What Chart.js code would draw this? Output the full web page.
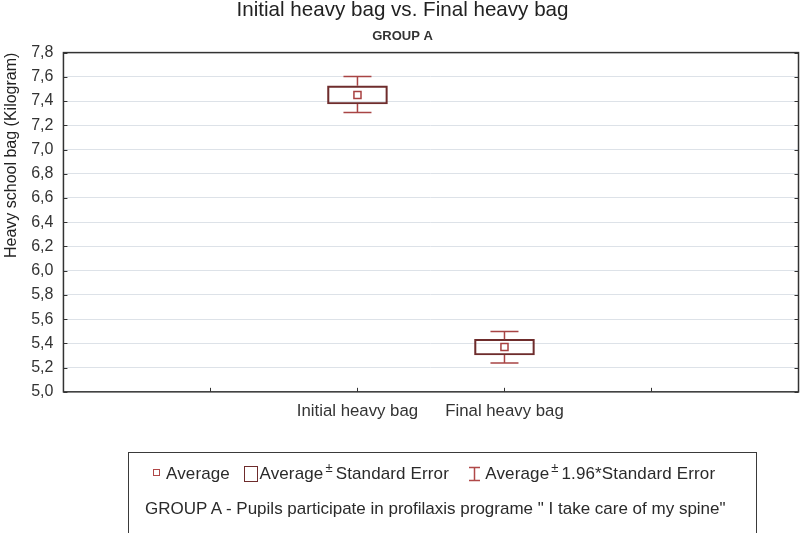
<!DOCTYPE html>
<html>
<head>
<meta charset="utf-8">
<script src="https://cdn.jsdelivr.net/npm/chart.js@4.4.0/dist/chart.umd.min.js"></script>
<style>
  body { margin: 0; background: #fff; font-family: 'Liberation Sans', Arial, sans-serif; overflow: hidden; }
  #wrap { position: relative; width: 800px; height: 533px; overflow: hidden; }
  #legend { position: absolute; left: 128px; top: 452px; width: 629px; height: 82px;
            border: 1.5px solid #3a3a3a; box-sizing: border-box; color: #2a2a2a; font-size: 17px; }
  .row { position: absolute; white-space: nowrap; line-height: 20px; }
  .sq { display: inline-block; width: 5px; height: 5px; border: 1.5px solid #b04848; vertical-align: 3px; margin-right: 6px; }
  .bx { display: inline-block; width: 12px; height: 14px; border: 1.5px solid #6e2c2c; vertical-align: -3px; margin-right: 1px; }
  sup { font-size: 13px; vertical-align: 7px; line-height: 0; margin: 0 3px 0 2px; }
  svg { vertical-align: -3px; }
</style>
</head>
<body>
<div id="wrap">
  <canvas id="chart" width="805" height="533"></canvas>
  <div id="legend">
    <div class="row" style="left:24px; top:11px; letter-spacing:0.13px;">
      <span class="sq"></span>Average&nbsp;&nbsp;&nbsp;<span class="bx"></span>Average<sup>±</sup>Standard Error&nbsp;&nbsp;&nbsp;&nbsp;<svg width="13" height="16"><path d="M1 1.5H12M6.5 1.5V14.5M1 14.5H12" stroke="#b04848" stroke-width="1.5" fill="none"/></svg> Average<sup>±</sup>1.96*Standard Error
    </div>
    <div class="row" style="left:16px; top:46px;">GROUP A - Pupils participate in profilaxis programe " I take care of my spine"</div>
  </div>
</div>
<script>
// DATA
const categories = ['Initial heavy bag', 'Final heavy bag'];
const catPos = [2, 3];
const means = [7.45, 5.37];
const seLow = [7.376, 5.304];
const seHigh = [7.526, 5.434];
const ciLow = [7.306, 5.238];
const ciHigh = [7.602, 5.497];
const yMin = 5.0, yMax = 7.8, yStep = 0.2;
const xMin = 0, xMax = 5;

Chart.defaults.font.family = "'Liberation Sans', Arial, sans-serif";
Chart.defaults.color = '#2a2a2a';

// whiskers (mean +- 1.96*SE)
const whiskers = {
  id: 'whiskers',
  afterDatasetsDraw(chart) {
    const { ctx, scales: { x, y } } = chart;
    ctx.save();
    ctx.strokeStyle = '#a84444';
    ctx.lineWidth = 1.5;
    catPos.forEach((c, i) => {
      const px = x.getPixelForValue(c);
      const top = y.getPixelForValue(ciHigh[i]);
      const bot = y.getPixelForValue(ciLow[i]);
      const bt = y.getPixelForValue(seHigh[i]);
      const bb = y.getPixelForValue(seLow[i]);
      ctx.beginPath();
      ctx.moveTo(px, top); ctx.lineTo(px, bt);
      ctx.moveTo(px, bb); ctx.lineTo(px, bot);
      ctx.moveTo(px - 14, top); ctx.lineTo(px + 14, top);
      ctx.moveTo(px - 14, bot); ctx.lineTo(px + 14, bot);
      ctx.stroke();
    });
    ctx.restore();
  }
};

// frame with inward ticks
const frame = {
  id: 'frame',
  afterDraw(chart) {
    const { ctx, chartArea: a, scales: { x, y } } = chart;
    ctx.save();
    ctx.strokeStyle = '#333';
    ctx.lineWidth = 1.5;
    ctx.strokeRect(a.left, a.top, a.right - a.left, a.bottom - a.top);
    ctx.lineWidth = 1;
    ctx.beginPath();
    x.ticks.forEach(t => {
      if (t.value <= xMin || t.value >= xMax) return;
      const px = Math.round(x.getPixelForValue(t.value)) + 0.5;
      ctx.moveTo(px, a.bottom); ctx.lineTo(px, a.bottom - 4);
    });
    y.ticks.forEach(t => {
      const py = Math.round(y.getPixelForValue(t.value)) + 0.5;
      ctx.moveTo(a.left, py); ctx.lineTo(a.left + 4, py);
      ctx.moveTo(a.right, py); ctx.lineTo(a.right - 4, py);
    });
    ctx.stroke();
    ctx.restore();
  }
};

const noEdgePad = s => {
  s.paddingLeft = 0; s.paddingRight = 0;
  s.paddingTop = 0; s.paddingBottom = 0;
};

new Chart(document.getElementById('chart'), {
  type: 'bar',
  data: {
    datasets: [
      {
        type: 'scatter',
        label: 'Average',
        data: catPos.map((c, i) => ({ x: c, y: means[i] })),
        pointStyle: 'rect',
        pointRadius: 5,
        borderColor: '#a84040',
        backgroundColor: '#fff',
        borderWidth: 1.5,
        order: 0
      },
      {
        label: 'Average ± Standard Error',
        data: catPos.map((c, i) => ({ x: c, y: [seLow[i], seHigh[i]] })),
        backgroundColor: 'rgba(0,0,0,0)',
        borderColor: '#6e2c2c',
        borderWidth: 1.5,
        borderSkipped: false,
        barThickness: 60,
        order: 1
      }
    ]
  },
  options: {
    responsive: false,
    animation: false,
    layout: { padding: { left: 0, right: 0, top: 0, bottom: 103 } },
    plugins: {
      legend: { display: false },
      tooltip: { enabled: false },
      title: {
        display: true,
        text: 'Initial heavy bag vs. Final heavy bag',
        font: { size: 20.6, weight: 'normal', lineHeight: 1.0 },
        color: '#222',
        padding: { top: 0, bottom: 4 }
      },
      subtitle: {
        display: true,
        text: 'GROUP A',
        font: { size: 13, weight: 'bold', lineHeight: 1.0 },
        color: '#333',
        padding: { top: 5, bottom: 10 }
      }
    },
    scales: {
      x: {
        type: 'linear',
        min: xMin,
        max: xMax,
        offset: false,
        afterFit: noEdgePad,
        grid: { display: false, drawTicks: false, offset: false },
        border: { display: false },
        ticks: {
          stepSize: 1,
          autoSkip: false,
          maxRotation: 0,
          padding: 9,
          font: { size: 16.8 },
          color: '#333',
          callback: v => {
            const i = catPos.indexOf(v);
            return i >= 0 ? categories[i] : '';
          }
        }
      },
      y: {
        min: yMin,
        max: yMax,
        beginAtZero: false,
        afterFit: noEdgePad,
        grid: { color: '#dde2e8', drawTicks: false },
        border: { display: false },
        ticks: {
          stepSize: yStep,
          padding: 10,
          font: { size: 16 },
          color: '#333',
          callback: v => v.toFixed(1).replace('.', ',')
        },
        title: {
          display: true,
          text: 'Heavy school bag (Kilogram)',
          align: 'end',
          font: { size: 16 },
          color: '#222',
          padding: { top: 2, bottom: 0 }
        }
      }
    }
  },
  plugins: [whiskers, frame]
});
</script>
</body>
</html>
